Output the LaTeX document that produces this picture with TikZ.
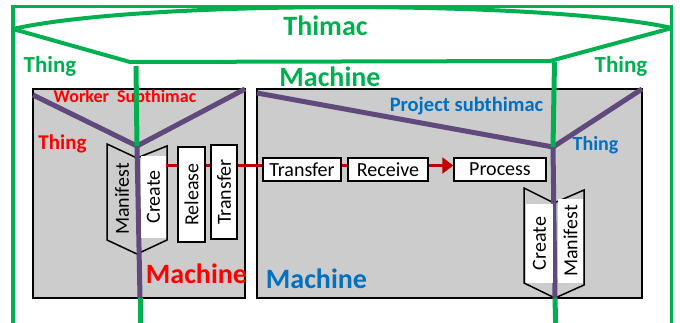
\documentclass[tikz,border=0pt]{standalone}
\usepackage{fontspec}
\setmainfont{Carlito}
\usetikzlibrary{arrows.meta}
\definecolor{tgreen}{RGB}{0,176,80}
\definecolor{tpurple}{RGB}{96,74,123}
\definecolor{tblue}{RGB}{0,112,192}
\definecolor{tred}{RGB}{255,0,0}
\definecolor{tdred}{RGB}{192,0,0}
\definecolor{tgray}{RGB}{204,204,204}
\tikzset{
  gline/.style={draw=tgreen, line width=4pt, line join=miter},
  pline/.style={draw=tpurple, line width=5pt},
  rline/.style={draw=tdred, line width=3pt},
  graybox/.style={draw=black, fill=tgray, line width=1.5pt},
  chev/.style={draw=black, fill=tgray, line width=1.5pt, line join=miter},
  wbox/.style={draw=black, fill=white, line width=1.5pt, inner sep=0pt, font=\fontsize{20}{22}\selectfont},
  wfill/.style={fill=white, inner sep=0pt, font=\fontsize{20}{22}\selectfont},
  lbl/.style={inner sep=0pt, anchor=base, font=\bfseries\fontsize{#1}{#1}\selectfont},
  plain/.style={inner sep=0pt, font=\fontsize{20}{22}\selectfont},
}
\begin{document}
\begin{tikzpicture}[x=1pt,y=-1pt]
\useasboundingbox (0,0) rectangle (680,322);
% outer frame
\draw[gline, line width=3.5pt] (13,340) -- (13,6.5) -- (671.5,6.5) -- (671.5,340);
\coordinate (tl) at (13,29);
\coordinate (tr) at (672,28);
\coordinate (fl) at (130,62);
\coordinate (fr) at (550,61);
\draw[gline] (tl) .. controls (140,0) and (545,0) .. (tr);
\draw[gline] (tl) -- (fl) -- (fr) -- (tr);
% gray boxes
\node[graybox, minimum width=212pt, minimum height=209pt, inner sep=0pt] (wbx) at (139,193.5) {};
\node[graybox, minimum width=385pt, minimum height=209pt, inner sep=0pt] (pbx) at (449.5,193.5) {};
% purple lines
\coordinate (wl) at (33,95);
\coordinate (wv) at (137,146);
\coordinate (wr) at (245,89);
\coordinate (wb) at (140,298);
\coordinate (pl) at (257,93);
\coordinate (pv) at (553,147);
\coordinate (pr) at (642,89);
\coordinate (pb) at (555,298);
\draw[pline] (wl) -- (wv) -- (wr);
\draw[pline] (pl) -- (pv) -- (pr);
% chevrons
\draw[chev] (107,144) -- (137,158) -- (167,146) -- (167,240) -- (137,254) -- (107,240) -- cycle;
\draw[chev] (524,188) -- (554,203) -- (584,190) -- (584,285) -- (555,298) -- (524,283) -- cycle;
\draw[pline] (wv) -- (wb);
\draw[pline] (pv) -- (pb);
% left vertical boxes
\node[plain, rotate=90] (wman) at (122,199) {Manifest};
\node[wfill, rotate=90, minimum width=82pt, minimum height=25pt] (wcre) at (153.5,197) {Create};
\node[wbox, rotate=90, minimum width=95pt, minimum height=27pt] (rel) at (191.5,194.5) {Release};
\node[wbox, rotate=90, minimum width=94pt, minimum height=26pt] (trv) at (224,192) {Transfer};
% right vertical boxes
\node[wfill, rotate=90, minimum width=79pt, minimum height=27pt] (pcre) at (539.5,243.5) {Create};
\node[wfill, rotate=90, minimum width=84pt, minimum height=25pt] (pman) at (570.5,241) {Manifest};
% horizontal boxes
\node[wbox, minimum width=78pt, minimum height=23pt] (trh) at (302,169.5) {Transfer};
\node[wbox, minimum width=80pt, minimum height=23pt] (rec) at (388,169.5) {Receive};
\node[wbox, minimum width=92pt, minimum height=23pt] (pro) at (500,169.5) {Process};
% red connectors
\coordinate (ry) at (0,165.5);
\draw[rline] (wcre.south |- ry) -- (rel.north |- ry);
\draw[rline] (rel.south |- ry) -- (trv.north |- ry);
\draw[rline] (trv.south |- ry) -- (trh.west |- ry);
\draw[rline] (trh.east |- ry) -- (rec.west |- ry);
\draw[rline, -{Triangle[length=11pt,width=16pt]}] (rec.east |- ry) -- (pro.west |- ry);
% labels
\node[lbl=28, text=tgreen] (thimac) at (325.5,35) {Thimac};
\node[lbl=28, text=tgreen] (mach) at (330,86) {Machine};
\node[lbl=23, text=tgreen] (thl) at (50,72) {Thing};
\node[lbl=23, text=tgreen] (thr) at (621,72) {Thing};
\node[lbl=18, text=tred] (wst) at (125,102) {Worker\hspace{0.45em}Subthimac};
\node[lbl=21, text=tred] (thw) at (62.5,149) {Thing};
\node[lbl=28, text=tred] (wmach) at (196.5,283) {Machine};
\node[lbl=20.5, text=tblue] (pst) at (466.5,111) {Project subthimac};
\node[lbl=20, text=tblue] (thp) at (595.5,150) {Thing};
\node[lbl=28, text=tblue] (pmach) at (316.5,288) {Machine};
% green verticals
\draw[gline, line width=5pt] (136,66) -- (wv);
\draw[gline, line width=5pt] (554.5,62) -- (pv);
\draw[gline, line width=5pt] (wb) -- (140,340);
\draw[gline, line width=5pt] (pb) -- (556,340);
\end{tikzpicture}
\end{document}
